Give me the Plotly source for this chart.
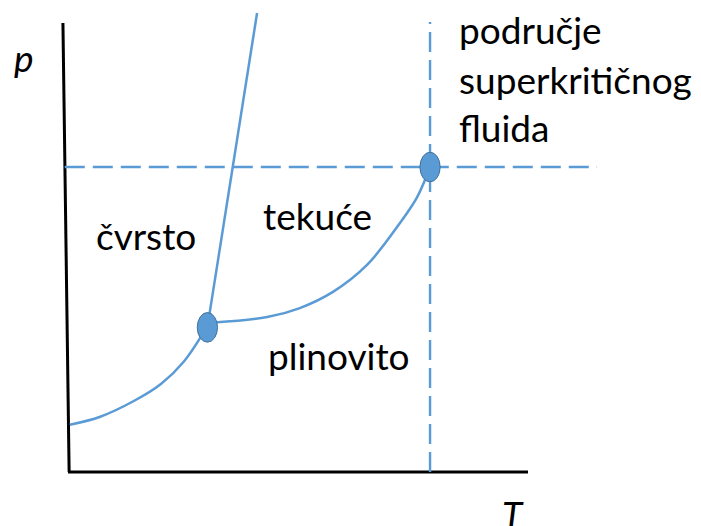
import plotly.graph_objects as go

# ---- data (T, p in arbitrary units: axis origin = 0, axis ends = 100) ----
sub_T = [0.4, 7.0, 14.3, 20.2, 25.2, 30.2]
sub_p = [10.5, 12.3, 15.8, 19.6, 24.6, 32.3]

melt_T = [30.3, 41.1]
melt_p = [32.2, 102.2]

vap_T = [31.8, 43.3, 50.4, 57.6, 65.0, 72.2, 75.9, 78.7]
vap_p = [33.3, 34.5, 36.5, 40.1, 46.1, 55.5, 61.2, 67.9]

triple_T, triple_p = 30.3, 32.2
critical_T, critical_p = 78.7, 67.9

crit_h_T = [-0.7, 115.0]
crit_v_p = [0.0, 100.2]

yaxis_T = [-1.1, 0.25]
yaxis_p = [100.0, 0.0]
xaxis_T = [0.0, 100.0]
xaxis_p = [0.0, 0.0]

labels = ["čvrsto", "tekuće", "plinovito", "područje", "superkritičnog", "fluida"]
label_T = [5.7, 42.0, 43.1, 84.6, 84.6, 84.6]
label_p = [52.6, 57.2, 26.0, 98.5, 87.4, 76.6]

BLUE = "#5B9BD5"
FONT = "Lato"
FS = 37

fig = go.Figure()

# axes
fig.add_trace(go.Scatter(x=yaxis_T, y=yaxis_p, mode="lines",
                         line=dict(color="black", width=3), hoverinfo="skip"))
fig.add_trace(go.Scatter(x=xaxis_T, y=xaxis_p, mode="lines",
                         line=dict(color="black", width=3), hoverinfo="skip"))

# dashed critical lines
fig.add_trace(go.Scatter(x=crit_h_T, y=[critical_p, critical_p], mode="lines",
                         line=dict(color=BLUE, width=2.4, dash="20px,8px")))
fig.add_trace(go.Scatter(x=[critical_T, critical_T], y=crit_v_p, mode="lines",
                         line=dict(color=BLUE, width=2.4, dash="20px,8px")))

# phase boundaries
fig.add_trace(go.Scatter(x=sub_T, y=sub_p, mode="lines",
                         line=dict(color=BLUE, width=2.5, shape="spline")))
fig.add_trace(go.Scatter(x=melt_T, y=melt_p, mode="lines",
                         line=dict(color=BLUE, width=2.5)))
fig.add_trace(go.Scatter(x=vap_T, y=vap_p, mode="lines",
                         line=dict(color=BLUE, width=2.5, shape="spline")))

# points (ellipses)
EW, EH = 2.2, 3.3
for cx, cy in [(triple_T, triple_p), (critical_T, critical_p)]:
    fig.add_shape(type="circle", xref="x", yref="y",
                  x0=cx - EW, x1=cx + EW, y0=cy - EH, y1=cy + EH,
                  fillcolor=BLUE, line=dict(color="#41719C", width=1))

for txt, tx, ty in zip(labels, label_T, label_p):
    fig.add_annotation(x=tx, y=ty, text=txt, showarrow=False,
                       xanchor="left", yanchor="middle",
                       font=dict(family=FONT, size=FS, color="black"))

fig.add_annotation(x=-12.2, y=92.4, text="<i>p</i>", showarrow=False,
                   xanchor="left", yanchor="middle",
                   font=dict(family=FONT, size=FS, color="black"))
fig.add_annotation(x=93.9, y=-9.5, text="<i>T</i>", showarrow=False,
                   xanchor="left", yanchor="middle",
                   font=dict(family=FONT, size=FS, color="black"))

fig.update_layout(
    width=701, height=526,
    margin=dict(l=0, r=0, t=0, b=0),
    paper_bgcolor="white", plot_bgcolor="white",
    showlegend=False,
    xaxis=dict(range=[-14.78, 137.6], visible=False, fixedrange=True),
    yaxis=dict(range=[-12.03, 105.1], visible=False, fixedrange=True),
)

fig.write_html("out.html", config={"displayModeBar": False},
               post_script="document.body.style.margin='0';document.body.style.overflow='hidden';")
